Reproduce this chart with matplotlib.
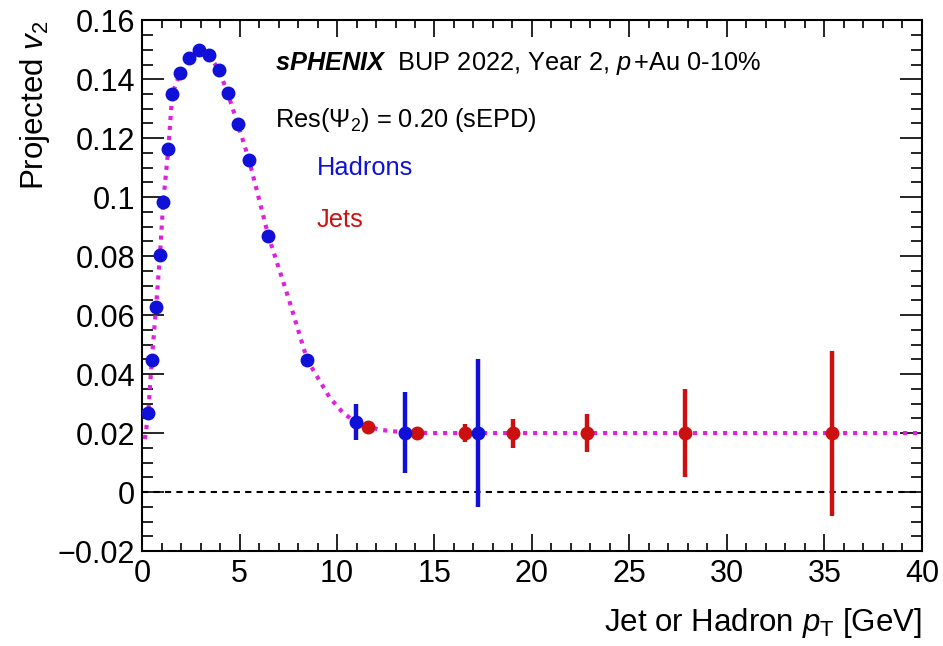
import numpy as np
import matplotlib
matplotlib.use("Agg")
import matplotlib.pyplot as plt
from matplotlib.ticker import MultipleLocator, FixedLocator, FixedFormatter

plt.rcParams['font.family'] = ['Liberation Sans', 'DejaVu Sans']
plt.rcParams['mathtext.fontset'] = 'custom'
plt.rcParams['mathtext.rm'] = 'Liberation Sans'
plt.rcParams['mathtext.it'] = 'Liberation Sans:italic'
plt.rcParams['mathtext.bf'] = 'Liberation Sans:bold:italic'

# Hadron points
had_x = [0.32, 0.50, 0.72, 0.92, 1.09, 1.35, 1.55, 1.95, 2.43, 2.94, 3.45, 3.95,
         4.39, 4.92, 5.49, 6.48, 8.48, 10.97, 13.47, 17.21]
had_y = [0.0268, 0.0447, 0.0626, 0.0804, 0.0985, 0.1164, 0.1350, 0.1420, 0.1473,
         0.1500, 0.1482, 0.1430, 0.1353, 0.1247, 0.1126, 0.0869, 0.0447, 0.0237,
         0.0202, 0.0200]
had_err = [0, 0, 0, 0, 0, 0, 0, 0, 0, 0, 0, 0, 0, 0, 0, 0, 0, 0.006, 0.0137, 0.0251]

# Jet points
jet_x = [11.57, 14.09, 16.56, 19.04, 22.80, 27.85, 35.37]
jet_y = [0.0220, 0.0200, 0.0200, 0.0200, 0.0200, 0.0200, 0.0200]
jet_err = [0.0, 0.0, 0.003, 0.0049, 0.0065, 0.0148, 0.028]

# Projected v2 curve
curve_x = [0.15, 0.32, 0.50, 0.72, 0.92, 1.09, 1.35, 1.55, 1.95, 2.43, 2.94, 3.45,
           3.95, 4.39, 4.92, 5.49, 6.48, 7.50, 8.48, 9.64, 10.32, 11.0, 12.2,
           13.5, 15.0, 40.0]
curve_y = [0.0180, 0.0268, 0.0447, 0.0626, 0.0804, 0.0985, 0.1164, 0.1350, 0.1420,
           0.1473, 0.1500, 0.1482, 0.1430, 0.1353, 0.1247, 0.1126, 0.0869, 0.0660,
           0.0447, 0.0319, 0.0268, 0.0235, 0.0211, 0.0202, 0.0200, 0.0200]

y_ticks = [-0.02, 0, 0.02, 0.04, 0.06, 0.08, 0.1, 0.12, 0.14, 0.16]
y_labels = ['\u22120.02', '0', '0.02', '0.04', '0.06', '0.08', '0.1', '0.12', '0.14', '0.16']

blue = '#1010d8'
red = '#cc1010'
magenta = '#dd22dd'

fig = plt.figure(figsize=(9.43, 6.46), dpi=100)
ax = fig.add_axes([0.1506, 0.147, 0.8271, 0.8216])

ax.axhline(0, color='black', ls=(0, (3, 2.5)), lw=1.5, zorder=1)
ax.plot(curve_x, curve_y, color=magenta, ls=(0, (1, 1.4)), lw=3, zorder=2)

ax.errorbar(jet_x, jet_y, yerr=jet_err, fmt='o', color=red, ms=9, elinewidth=3.2,
            capsize=0, zorder=3)
ax.errorbar(had_x, had_y, yerr=had_err, fmt='o', color=blue, ms=9, elinewidth=3.2,
            capsize=0, zorder=4)

ax.set_xlim(0, 40)
ax.set_ylim(-0.02, 0.16)
ax.xaxis.set_major_locator(MultipleLocator(5))
ax.xaxis.set_minor_locator(MultipleLocator(1))
ax.yaxis.set_major_locator(FixedLocator(y_ticks))
ax.yaxis.set_major_formatter(FixedFormatter(y_labels))
ax.yaxis.set_minor_locator(MultipleLocator(0.005))

ax.tick_params(which='both', direction='in', top=True, right=True, width=1.2)
ax.tick_params(axis='x', which='major', length=12, labelsize=22, pad=6)
ax.tick_params(axis='x', which='minor', length=6)
ax.tick_params(axis='y', which='major', length=16, labelsize=22, pad=5)
ax.tick_params(axis='y', which='minor', length=8)
for s in ax.spines.values():
    s.set_linewidth(1.5)

ax.set_xlabel(r'Jet or Hadron $p_{\mathrm{T}}$ [GeV]', fontsize=22.5, loc='right',
              labelpad=12)
ax.set_ylabel(r'Projected $v_{2}$', fontsize=22.5, loc='top', labelpad=4)

fig.text(275 / 943, 1 - 70 / 646,
         r'$\mathbf{sPHENIX}$  BUP 2022, Year 2, $p\,$+Au 0-10%',
         fontsize=18.3, va='baseline')
fig.text(275 / 943, 1 - 127 / 646, r'Res($\Psi_{2}$) = 0.20 (sEPD)', fontsize=18.3,
         va='baseline')
fig.text(317 / 943, 1 - 175 / 646, 'Hadrons', fontsize=18.3, color=blue, va='baseline')
fig.text(317 / 943, 1 - 227 / 646, 'Jets', fontsize=18.3, color=red, va='baseline')

fig.savefig('out.png', dpi=100)
